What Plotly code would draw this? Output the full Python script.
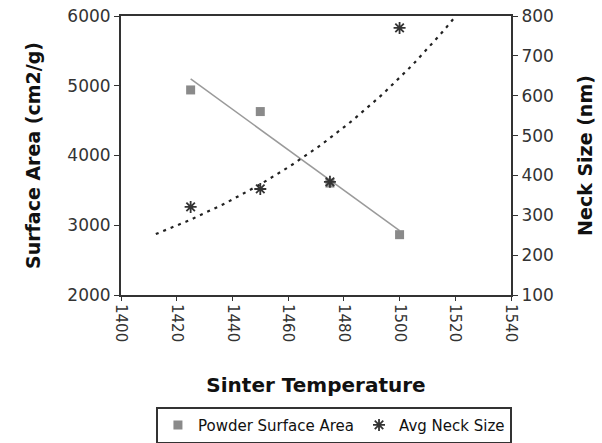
import numpy as np
import plotly.graph_objects as go

temps = [1425, 1450, 1475, 1500]
surface_area = [4940, 4630, 3605, 2865]
neck_size = [321, 366, 384, 770]
x_ticks = [1400, 1420, 1440, 1460, 1480, 1500, 1520, 1540]

# Trendlines computed from the data
t = np.array(temps, dtype=float)
lin = np.polyfit(t, np.array(surface_area, dtype=float), 1)
lin_x = np.array([min(temps), max(temps)], dtype=float)
lin_y = np.polyval(lin, lin_x)

expo = np.polyfit(t, np.log(np.array(neck_size, dtype=float)), 1)
exp_x = np.linspace(1412.5, 1520, 60)
exp_y = np.exp(np.polyval(expo, exp_x))

font = "DejaVu Sans, Verdana, sans-serif"

fig = go.Figure()
fig.add_trace(go.Scatter(x=lin_x, y=lin_y, mode="lines",
                         line=dict(color="#9a9a9a", width=1.5),
                         showlegend=False, hoverinfo="skip"))
fig.add_trace(go.Scatter(x=exp_x, y=exp_y, mode="lines", yaxis="y2",
                         line=dict(color="#222", width=2.2, dash="3px,5px"),
                         showlegend=False, hoverinfo="skip"))
fig.add_trace(go.Scatter(x=temps, y=surface_area, mode="markers",
                         name="Powder Surface Area",
                         marker=dict(symbol="square", size=9, color="#8a8a8a")))
fig.add_trace(go.Scatter(x=temps, y=neck_size, mode="markers", yaxis="y2",
                         name="Avg Neck Size",
                         marker=dict(symbol="asterisk-open", size=10, color="#333",
                                     line=dict(color="#333", width=1.8))))

fig.update_layout(
    width=602, height=443,
    margin=dict(l=121, r=91, t=16, b=148),
    paper_bgcolor="white", plot_bgcolor="white",
    font=dict(family=font, color="#222"),
    xaxis=dict(range=[1400, 1540], tickvals=x_ticks, tickangle=90,
               automargin=False,
               showgrid=False, zeroline=False,
               showline=True, linecolor="#333", linewidth=2, mirror=True,
               ticks="outside", ticklen=4, tickcolor="#333",
               tickfont=dict(size=15, color="#333", family=font),
               title=dict(text="<b>Sinter Temperature</b>",
                          font=dict(size=20, color="#111", family=font),
                          standoff=37)),
    yaxis=dict(range=[2000, 6000], dtick=1000, automargin=False,
               showgrid=False, zeroline=False,
               showline=True, linecolor="#333", linewidth=2,
               ticks="outside", ticklen=5, tickcolor="#333",
               tickfont=dict(size=17, color="#333", family=font),
               title=dict(text="<b>Surface Area (cm2/g)</b>",
                          font=dict(size=19, color="#111", family=font),
                          standoff=22)),
    yaxis2=dict(range=[100, 800], dtick=100, overlaying="y", side="right",
                automargin=False,
                showgrid=False, zeroline=False,
                showline=True, linecolor="#333", linewidth=2,
                ticks="outside", ticklen=5, tickcolor="#333",
                tickfont=dict(size=17, color="#333", family=font),
                title=dict(text="<b>Neck Size (nm)</b>",
                           font=dict(size=19, color="#111", family=font),
                           standoff=26)),
    legend=dict(orientation="h", x=0.546, xanchor="center",
                yref="container", y=0.082, yanchor="top",
                bordercolor="#333", borderwidth=2,
                font=dict(size=15, color="#111", family=font),
                itemwidth=30, tracegroupgap=0),
    showlegend=True,
)

fig.write_html("out.html")
